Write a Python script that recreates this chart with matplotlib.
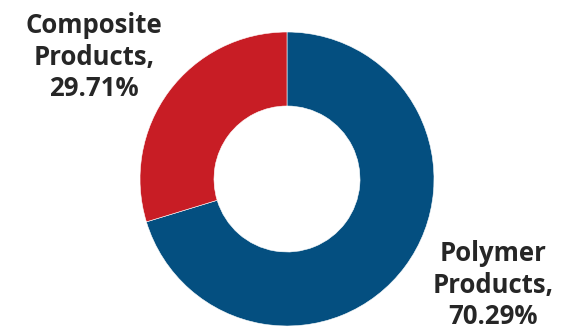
import matplotlib.pyplot as plt

segments = ["Polymer\nProducts,", "Composite\nProducts,"]
shares = [70.29, 29.71]
colors = ["#044F80", "#C81D25"]

W, H = 575, 334
fig = plt.figure(figsize=(W / 100, H / 100), dpi=100)
ax = fig.add_axes([0, 0, 1, 1])

# donut, polymer slice running clockwise from 12 o'clock
ax.pie(shares, colors=colors, startangle=90, counterclock=False,
       center=(287, H - 179), radius=147,
       wedgeprops=dict(width=74, edgecolor="white", linewidth=0.4))

label_pos = [(493, H - 285), (94, H - 57)]
for name, val, (x, y) in zip(segments, shares, label_pos):
    ax.text(x, y, f"{name}\n{val:.2f}%", ha="center", va="center",
            fontsize=18.5, fontweight="bold", family="Open Sans",
            color="#262626", linespacing=1.22)

# pie() resets the view, so fix pixel-like limits afterwards
ax.set_xlim(0, W)
ax.set_ylim(0, H)
ax.set_aspect("equal")
ax.axis("off")

fig.savefig("out.png", dpi=100)
